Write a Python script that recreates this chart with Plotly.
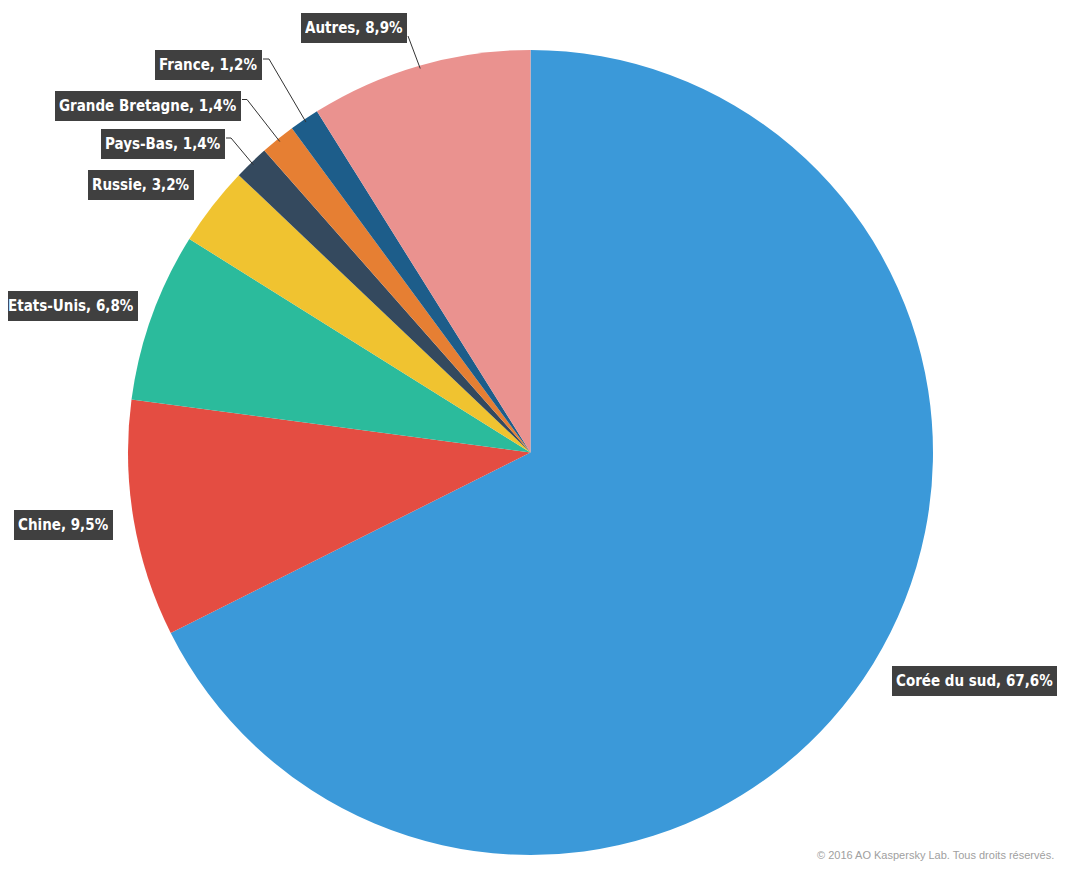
import math
import plotly.graph_objs as go

# parts des pays (%)
pays = ["Corée du sud", "Chine", "Etats-Unis", "Russie", "Pays-Bas",
        "Grande Bretagne", "France", "Autres"]
parts = [67.6, 9.5, 6.8, 3.2, 1.4, 1.4, 1.2, 8.9]
couleurs = ["#3b99d9", "#e44d42", "#2bbb9c", "#f0c330", "#34495e",
            "#e67f33", "#1d5d8a", "#ea928f"]

# la page ajoute une marge de 8 px autour de la figure
MARGE = 8
W, H = 1065 - 2 * MARGE, 869 - 2 * MARGE
CX, CY, R = 530.5, 452.5, 402.5   # centre et rayon du camembert (px écran)

# position des étiquettes (px écran) : bord d'ancrage, centre vertical, côté
etiq_x = [892, 113, 138, 194, 225, 241, 262, 407]
etiq_y = [681, 525, 306, 185, 144, 105.5, 65, 28]
etiq_cote = ["left", "right", "right", "right", "right", "right", "right", "right"]
# trait de rappel : (décalage vertical, longueur du coude) ou None
rappel = [None, None, None, None, (-6, 5), (-6, 5), (-6, 6), (8, 0)]


def px(x):
    return (x - MARGE) / W


def py(y):
    return 1 - (y - MARGE) / H


fig = go.Figure()
fig.add_trace(go.Pie(
    labels=pays, values=parts,
    marker=dict(colors=couleurs, line=dict(width=0)),
    sort=False, direction="clockwise", rotation=0,
    textinfo="none", hoverinfo="label+percent",
    domain=dict(x=[px(CX - R), px(CX + R)], y=[py(CY + R), py(CY - R)]),
    showlegend=False,
))

annotations = []
shapes = []
cumul = 0.0
total = sum(parts)
for i, nom in enumerate(pays):
    mid = (cumul + parts[i] / 2) / total * 2 * math.pi
    cumul += parts[i]
    texte = f"{nom}, {str(parts[i]).replace('.', ',')}%"
    annotations.append(dict(
        x=px(etiq_x[i]), y=py(etiq_y[i]), xref="paper", yref="paper",
        xanchor=etiq_cote[i], yanchor="middle", showarrow=False,
        text=f"<b>{texte}</b>",
        font=dict(family="Liberation Sans Narrow, DejaVu Sans Condensed, sans-serif",
                  size=15, color="white"),
        bgcolor="#404040", borderpad=4, borderwidth=0, height=22,
    ))
    if rappel[i] is not None:
        dy, coude = rappel[i]
        ax = CX + (R - 3) * math.sin(mid)
        ay = CY - (R - 3) * math.cos(mid)
        x0 = etiq_x[i] + 1
        y0 = etiq_y[i] + dy
        path = (f"M {px(x0)} {py(y0)} L {px(x0 + coude)} {py(y0)} "
                f"L {px(ax)} {py(ay)}")
        shapes.append(dict(type="path", path=path, xref="paper", yref="paper",
                           line=dict(color="#333333", width=1)))

annotations.append(dict(
    x=px(1056), y=py(855), xref="paper", yref="paper",
    xanchor="right", yanchor="middle", showarrow=False,
    text="© 2016 AO Kaspersky Lab. Tous droits réservés.",
    font=dict(family="Liberation Sans, Arial, sans-serif", size=11, color="#a0a0a0"),
))

fig.update_layout(
    width=W, height=H,
    margin=dict(l=0, r=0, t=0, b=0),
    paper_bgcolor="white", plot_bgcolor="white",
    annotations=annotations, shapes=shapes,
)

fig.write_html("out.html")
